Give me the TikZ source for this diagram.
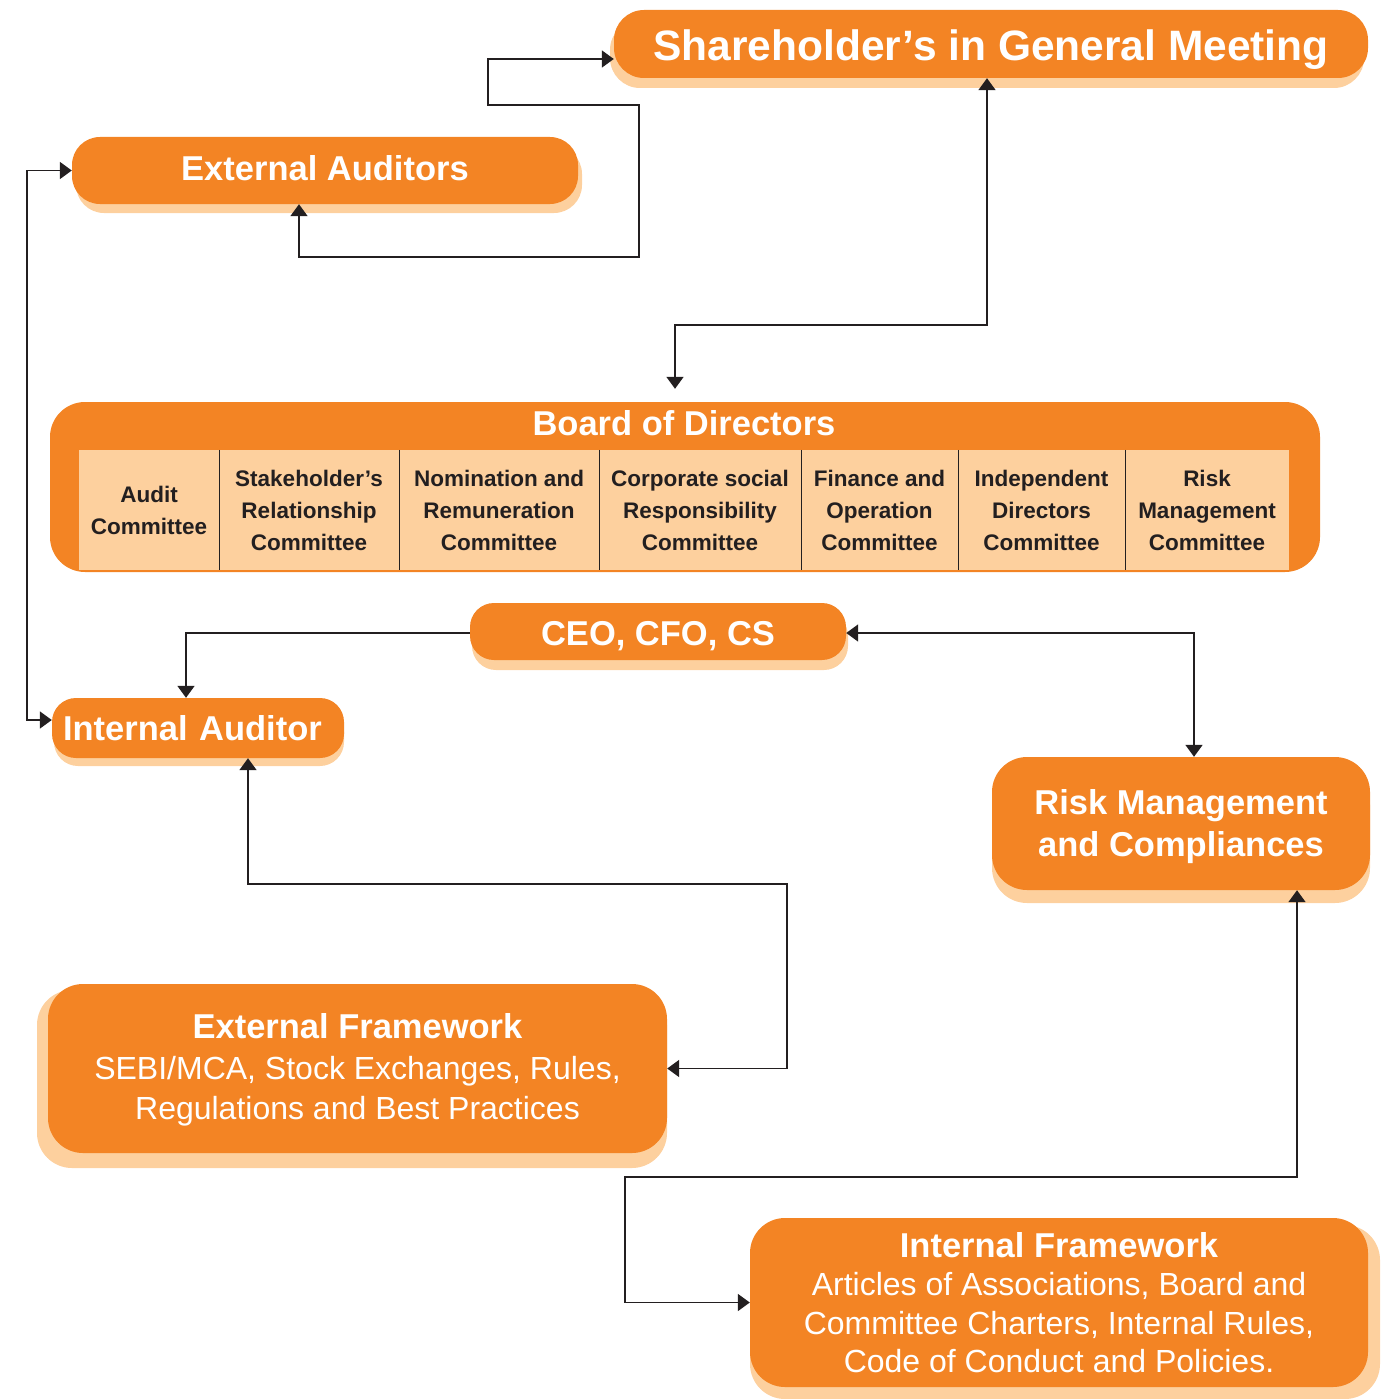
\documentclass[tikz,border=0pt]{standalone}
\usepackage{fontspec}
\setmainfont{Liberation Sans}
\usetikzlibrary{arrows.meta}
\definecolor{org}{RGB}{243,132,36}
\definecolor{lite}{RGB}{253,208,158}
\definecolor{ink}{RGB}{35,31,32}
\begin{document}
\begin{tikzpicture}[x=1pt,y=-1pt,
  box/.style={fill=org, text=white, inner sep=0pt, align=center},
  hd/.style={font=\fontsize{34.5}{40}\selectfont\bfseries},
  shd/.style={fill=lite},
  cell/.style={fill=lite, text=ink, inner sep=0pt, minimum height=120pt, align=center,
               font=\fontsize{22.5}{32}\selectfont\bfseries},
  conn/.style={draw=ink, line width=1.8pt, {Triangle[length=12pt,width=17pt]}-{Triangle[length=12pt,width=17pt]}},
  conn1/.style={draw=ink, line width=1.8pt, -{Triangle[length=12pt,width=17pt]}},
]
\useasboundingbox (0,0) rectangle (1392,1399);

% shadows
\fill[shd, rounded corners=30pt] (610,20) rectangle (1364,88);
\fill[shd, rounded corners=28pt] (76,146) rectangle (582,213);
\fill[shd, rounded corners=24pt] (472,612) rectangle (848,670);
\fill[shd, rounded corners=24pt] (54,708) rectangle (344,766);
\fill[shd, rounded corners=35pt] (992,770) rectangle (1370,903);
\fill[shd, rounded corners=35pt] (37,990) rectangle (667,1168);
\fill[shd, rounded corners=35pt] (750,1225) rectangle (1380,1399);

% boxes
\node[box, rounded corners=30pt, minimum width=754pt, minimum height=68pt, text height=32.6pt, text depth=0pt,
      font=\fontsize{42.5}{48}\selectfont\bfseries] (sh) at (991,44) {Shareholder’s in General Meeting};
\node[box, hd, rounded corners=28pt, minimum width=506pt, minimum height=67pt, text height=20pt, text depth=0pt] (ea) at (325,170.5) {External Auditors};

\node[box, rounded corners=35pt, minimum width=1270pt, minimum height=170pt] (bd) at (685,487) {};
\node[hd, text=white, inner sep=0pt] (bdt) at (684,423) {Board of Directors};
\node[cell, minimum width=140pt] (c1) at (149,510) {Audit\\Committee};
\node[cell, minimum width=180pt] (c2) at (309,510) {Stakeholder’s\\Relationship\\Committee};
\node[cell, minimum width=200pt] (c3) at (499,510) {Nomination and\\Remuneration\\Committee};
\node[cell, minimum width=202pt] (c4) at (700,510) {Corporate social\\Responsibility\\Committee};
\node[cell, minimum width=157pt] (c5) at (879.5,510) {Finance and\\Operation\\Committee};
\node[cell, minimum width=167pt] (c6) at (1041.5,510) {Independent\\Directors\\Committee};
\node[cell, minimum width=164pt] (c7) at (1207,510) {Risk\\Management\\Committee};
\foreach \i in {1,...,6} \draw[ink, line width=1.2pt] (c\i.north east) -- (c\i.south east);

\node[box, hd, rounded corners=24pt, minimum width=376pt, minimum height=57pt, text height=27.7pt, text depth=0pt] (ceo) at (658,631.5) {CEO, CFO, CS};
\node[box, hd, rounded corners=24pt, minimum height=60pt, inner xsep=11pt, text width=270pt, align=left,
      text height=25pt, text depth=0pt] (ia) at (198,728) {Internal Auditor};
\node[box, rounded corners=35pt, minimum width=378pt, minimum height=133pt,
      font=\fontsize{34.5}{42}\selectfont\bfseries] (rm) at (1181,823.5) {\rule{0pt}{31pt}Risk Management\\and Compliances};
\node[box, rounded corners=35pt, minimum width=619pt, minimum height=169pt,
      font=\fontsize{32}{40.5}\selectfont] (ef) at (357.5,1068.5)
      {\rule{0pt}{28pt}{\fontsize{34.5}{40.5}\selectfont\bfseries External Framework}\\SEBI/MCA, Stock Exchanges, Rules,\\Regulations and Best Practices};
\node[box, rounded corners=35pt, minimum width=618pt, minimum height=169pt,
      font=\fontsize{32}{38.5}\selectfont] (if) at (1059,1302.5)
      {{\fontsize{34.5}{38.5}\selectfont\bfseries Internal Framework}\\Articles of Associations, Board and\\Committee Charters, Internal Rules,\\Code of Conduct and Policies.};

% connectors
\draw[conn] (ea.south -| 299,0) -- (299,257) -- (639,257) -- (639,105) -- (488,105) -- (488,59) -- (sh.west |- 0,59);
\draw[conn, shorten >=13pt] (sh.south -| 987,0) -- (987,325) -- (675,325) -- (bd.north -| 675,0);
\draw[conn] (ea.west) -- (27,170.5) -- (27,720) -- (ia.west |- 0,720);
\draw[conn1] (ceo.west |- 0,633) -- (186,633) -- (ia.north -| 186,0);
\draw[conn] (ceo.east |- 0,633) -- (1194,633) -- (rm.north -| 1194,0);
\draw[conn] (ia.south -| 248,0) -- (248,884) -- (787,884) -- (787,1068.5) -- (ef.east |- 0,1068.5);
\draw[conn] (rm.south -| 1297,0) -- (1297,1177) -- (625,1177) -- (625,1302.5) -- (if.west);
\end{tikzpicture}
\end{document}
